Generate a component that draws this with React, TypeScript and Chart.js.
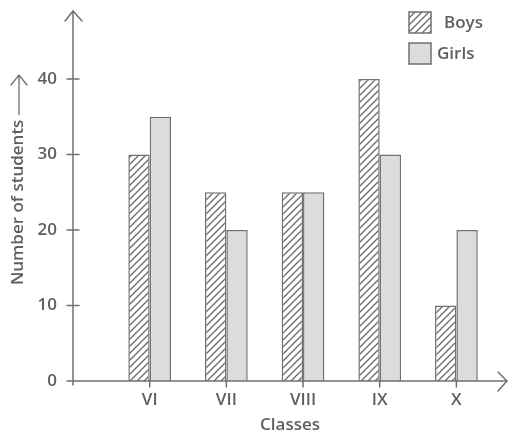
import React, { useEffect, useRef } from "react";
import { Chart, registerables } from "chart.js";

Chart.register(...registerables);

const categories = ["VI", "VII", "VIII", "IX", "X"];
const boys = [30, 25, 25, 40, 10];
const girls = [35, 20, 25, 30, 20];
const seriesNames = ["Boys", "Girls"];
const yTitle = "Number of students";
const xTitle = "Classes";

const TEXT = "#5f5f5f";
const AXIS = "#707070";
const FONT = "'Open Sans', 'DejaVu Sans', sans-serif";

function makeHatch(): CanvasPattern | string {
  const c = document.createElement("canvas");
  const s = 7;
  c.width = s;
  c.height = s;
  const g = c.getContext("2d");
  if (!g) return "#fff";
  g.fillStyle = "#ffffff";
  g.fillRect(0, 0, s, s);
  g.strokeStyle = "#6a6a6a";
  g.lineWidth = 1.3;
  g.beginPath();
  g.moveTo(-1, s + 1);
  g.lineTo(s + 1, -1);
  g.moveTo(-1, 1);
  g.lineTo(1, -1);
  g.moveTo(s - 1, s + 1);
  g.lineTo(s + 1, s - 1);
  g.stroke();
  const p = g.createPattern(c, "repeat");
  return p || "#fff";
}

export default function App() {
  const ref = useRef<HTMLCanvasElement | null>(null);

  useEffect(() => {
    const canvas = ref.current;
    if (!canvas) return;
    const hatch = makeHatch();
    const girlsFill = "#dcdcdc";

    const decor = {
      id: "decor",
      afterDraw(chart: any) {
        const ctx = chart.ctx as CanvasRenderingContext2D;
        const xs = chart.scales.x;
        const ys = chart.scales.y;
        const ax = xs.getPixelForValue(-1);
        const ay = ys.getPixelForValue(0);
        ctx.save();
        ctx.strokeStyle = AXIS;
        ctx.lineWidth = 1.5;
        ctx.lineCap = "round";
        // y axis
        ctx.beginPath();
        ctx.moveTo(ax, ay + 4);
        ctx.lineTo(ax, 11);
        ctx.moveTo(ax - 8, 21);
        ctx.lineTo(ax, 11);
        ctx.lineTo(ax + 9, 21);
        ctx.stroke();
        // x axis
        ctx.beginPath();
        ctx.moveTo(ax - 6, ay);
        ctx.lineTo(507, ay);
        ctx.moveTo(498, ay - 9);
        ctx.lineTo(507, ay);
        ctx.lineTo(498, ay + 10);
        ctx.stroke();
        // y ticks
        ctx.beginPath();
        for (const t of ys.ticks) {
          if (t.value === 0) continue;
          const py = ys.getPixelForValue(t.value);
          ctx.moveTo(ax - 6, py);
          ctx.lineTo(ax + 6, py);
        }
        // x ticks
        categories.forEach((_, i) => {
          const px = xs.getPixelForValue(i);
          ctx.moveTo(px, ay);
          ctx.lineTo(px, ay + 6);
        });
        ctx.stroke();

        // y title
        ctx.save();
        ctx.translate(18, 285);
        ctx.rotate(-Math.PI / 2);
        ctx.fillStyle = TEXT;
        ctx.font = `600 17px ${FONT}`;
        ctx.textAlign = "left";
        ctx.textBaseline = "middle";
        ctx.fillText(yTitle, 0, 0);
        const w = ctx.measureText(yTitle).width;
        ctx.beginPath();
        ctx.lineWidth = 1.3;
        ctx.moveTo(w + 5, 1);
        ctx.lineTo(210, 1);
        ctx.moveTo(200, -7);
        ctx.lineTo(210, 1);
        ctx.lineTo(200, 9);
        ctx.stroke();
        ctx.restore();

        // legend
        const fills = [hatch, girlsFill];
        const textX = [444, 437];
        const boxY = [12, 43];
        ctx.font = `600 17px ${FONT}`;
        ctx.textAlign = "left";
        ctx.textBaseline = "middle";
        seriesNames.forEach((name, i) => {
          ctx.fillStyle = fills[i] as any;
          ctx.fillRect(409, boxY[i], 22, 21);
          ctx.lineWidth = 1.5;
          ctx.strokeStyle = AXIS;
          ctx.strokeRect(409, boxY[i], 22, 21);
          ctx.fillStyle = TEXT;
          ctx.fillText(name, textX[i], boxY[i] + 11);
        });
        ctx.restore();
      },
    };

    const chart = new Chart(canvas, {
      type: "bar",
      data: {
        datasets: [
          {
            label: seriesNames[0],
            data: boys.map((v, i) => ({ x: i, y: v })),
            backgroundColor: hatch as any,
            borderColor: AXIS,
            borderWidth: 1.5,
            categoryPercentage: 0.557,
            barPercentage: 1,
          },
          {
            label: seriesNames[1],
            data: girls.map((v, i) => ({ x: i, y: v })),
            backgroundColor: girlsFill,
            borderColor: AXIS,
            borderWidth: 1.5,
            categoryPercentage: 0.557,
            barPercentage: 1,
          },
        ],
      },
      options: {
        responsive: false,
        animation: false,
        devicePixelRatio: 1,
        layout: { padding: { top: 30, right: 3, bottom: 0, left: 0 } },
        plugins: {
          legend: { display: false },
          tooltip: { enabled: false },
        },
        scales: {
          x: {
            type: "linear",
            offset: false,
            min: -1,
            max: 4.66,
            grid: { display: false, drawTicks: false, offset: false },
            border: { display: false },
            ticks: {
              stepSize: 1,
              includeBounds: false,
              autoSkip: false,
              maxRotation: 0,
              padding: 9,
              color: TEXT,
              font: { family: FONT, size: 17, weight: "600" },
              callback: (v: any) => {
                const i = Number(v);
                return Number.isInteger(i) && i >= 0 && i < categories.length ? categories[i] : "";
              },
            },
            title: {
              display: true,
              text: xTitle,
              color: TEXT,
              font: { family: FONT, size: 17, weight: "600", lineHeight: 1 },
              padding: { top: 0, bottom: 0.5 },
            },
            afterFit: (s: any) => {
              s.height = 53;
            },
          },
          y: {
            type: "linear",
            min: 0,
            max: 46.49,
            grid: { display: false, drawTicks: false },
            border: { display: false },
            ticks: {
              stepSize: 10,
              includeBounds: false,
              padding: 16,
              color: TEXT,
              font: { family: FONT, size: 17, weight: "600" },
            },
            afterFit: (s: any) => {
              s.width = 73;
            },
          },
        },
      },
      plugins: [decor],
    } as any);

    return () => chart.destroy();
  }, []);

  return (
    <div style={{ position: "fixed", left: 0, top: 0, width: 510, height: 434, background: "#fff" }}>
      <canvas ref={ref} width={510} height={434} style={{ width: 510, height: 434, display: "block" }} />
    </div>
  );
}
